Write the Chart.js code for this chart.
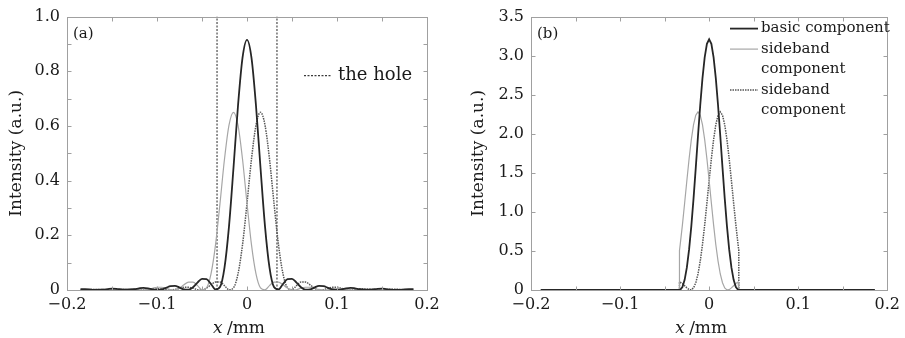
<!DOCTYPE html>
<html>
<head>
<meta charset="utf-8">
<script src="https://cdn.jsdelivr.net/npm/chart.js@4.4.1/dist/chart.umd.min.js"></script>
<style>
  html, body { margin: 0; padding: 0; background: #fff; }
  #wrap { position: relative; width: 905px; height: 338px; }
  canvas { position: absolute; top: 0; }
  #chartA { left: 0; }
  #chartB { left: 453px; }
</style>
</head>
<body>
<div id="wrap">
  <canvas id="chartA" width="453" height="338"></canvas>
  <canvas id="chartB" width="452" height="338"></canvas>
</div>
<script>
// ---- panel (a): intensity, x in mm ----
const xA = [-0.185,-0.18,-0.175,-0.17,-0.165,-0.16,-0.155,-0.15,-0.145,-0.14,-0.135,-0.13,-0.125,-0.12,-0.115,-0.11,-0.105,-0.1,-0.095,-0.09,-0.085,-0.08,-0.075,-0.07,-0.065,-0.06,-0.055,-0.05,-0.045,-0.04,-0.035,-0.03,-0.025,-0.02,-0.015,-0.01,-0.005,
  0,0.005,0.01,0.015,0.02,0.025,0.03,0.035,0.04,0.045,0.05,0.055,0.06,0.065,0.07,0.075,0.08,0.085,0.09,0.095,0.1,0.105,0.11,0.115,0.12,0.125,0.13,0.135,0.14,0.145,0.15,0.155,0.16,0.165,0.17,0.175,0.18,0.185];
const basicA = [0.003,0.003,0.002,0,0,0.001,0.003,0.005,0.004,0.002,0,0.001,0.003,0.006,0.008,0.006,0.002,0,0.002,0.008,0.014,0.015,0.009,0.002,0.001,0.010,0.027,0.041,0.040,0.022,0.002,0.011,0.082,0.233,0.447,0.674,0.849,
  0.915,0.849,0.674,0.447,0.233,0.082,0.011,0.002,0.022,0.040,0.041,0.027,0.010,0.001,0.002,0.009,0.015,0.014,0.008,0.002,0,0.002,0.006,0.008,0.006,0.003,0.001,0,0.002,0.004,0.005,0.003,0.001,0,0,0.002,0.003,0.003];
const sideLeftA = [0,0,0.001,0.002,0.003,0.003,0.001,0,0,0.002,0.005,0.005,0.004,0.001,0,0.002,0.006,0.010,0.010,0.007,0.001,0,0.007,0.019,0.029,0.029,0.016,0.001,0.008,0.059,0.165,0.317,0.479,0.603,0.650,
  0.603,0.479,0.317,0.165,0.059,0.008,0.001,0.016,0.029,0.029,0.019,0.007,0,0.001,0.007,0.010,0.010,0.006,0.002,0,0.001,0.004,0.005,0.005,0.002,0,0,0.001,0.003,0.003,0.002,0.001,0,0,0.001,0.002,0.002,0.001,0,0];
const sideRightA = [0,0,0.001,0.002,0.002,0.001,0,0,0.001,0.002,0.003,0.003,0.001,0,0,0.002,0.005,0.005,0.004,0.001,0,0.002,0.006,0.010,0.010,0.007,0.001,0,0.007,0.019,0.029,0.029,0.016,0.001,0.008,0.059,0.165,0.317,0.479,0.603,
  0.650,0.603,0.479,0.317,0.165,0.059,0.008,0.001,0.016,0.029,0.029,0.019,0.007,0,0.001,0.007,0.010,0.010,0.006,0.002,0,0.001,0.004,0.005,0.005,0.002,0,0,0.001,0.003,0.003,0.002,0.001,0,0];
const holeX = [-0.0333, 0.0333];
const holeY = [0, 1];

// ---- panel (b): components after the hole ----
const xB = [-0.189,-0.0333,-0.0333,-0.0325,-0.03,-0.0275,-0.025,-0.0225,-0.02,-0.0175,-0.015,-0.0125,-0.01,-0.0075,-0.005,-0.0025,
  0,0.0025,0.005,0.0075,0.01,0.0125,0.015,0.0175,0.02,0.0225,0.025,0.0275,0.03,0.0325,0.0333,0.0333,0.186];
const basicB = [0,0,0,0.002,0.038,0.130,0.289,0.519,0.817,1.173,1.567,1.974,2.365,2.710,2.979,3.151,
  3.210,3.151,2.979,2.710,2.365,1.974,1.567,1.173,0.817,0.519,0.289,0.130,0.038,0.002,0,0,0];
const sideLeftB = [0,0,0.505,0.580,0.833,1.113,1.402,1.680,1.925,2.116,2.238,2.280,2.238,2.116,1.925,1.680,
  1.402,1.113,0.833,0.580,0.369,0.205,0.093,0.027,0.002,0.005,0.027,0.055,0.082,0.101,0.104,0,0];
const sideRightB = [0,0,0.104,0.101,0.082,0.055,0.027,0.005,0.002,0.027,0.093,0.205,0.369,0.580,0.833,1.113,
  1.402,1.680,1.925,2.116,2.238,2.280,2.238,2.116,1.925,1.680,1.402,1.113,0.833,0.580,0.505,0,0];

// ---- ticks and labels ----
const xTickValues = [-0.2, -0.1, 0, 0.1, 0.2];
const xTickLabels = ['\u22120.2', '\u22120.1', '0', '0.1', '0.2'];
const yTickValuesA = [0, 0.2, 0.4, 0.6, 0.8, 1.0];
const yTickLabelsA = ['0', '0.2', '0.4', '0.6', '0.8', '1.0'];
const yTickValuesB = [0, 0.5, 1.0, 1.5, 2.0, 2.5, 3.0, 3.5];
const yTickLabelsB = ['0', '0.5', '1.0', '1.5', '2.0', '2.5', '3.0', '3.5'];
const legendA = [{ index: 3, text: ['the hole'] }];
const legendB = [
  { index: 0, text: ['basic component'] },
  { index: 1, text: ['sideband', 'component'] },
  { index: 2, text: ['sideband', 'component'] }
];

Chart.defaults.font.family = '"DejaVu Serif", serif';
Chart.defaults.color = '#1a1a1a';

const styleBasic = { borderColor: '#262626', borderWidth: 1.8 };
const styleLight = { borderColor: '#a6a6a6', borderWidth: 1.2 };
const styleDots = { borderColor: '#555555', borderWidth: 1.5, borderDash: [1.5, 1] };
const styleHole = { borderColor: '#3a3a3a', borderWidth: 1.1, borderDash: [2, 1.5] };

function pairs(xs, ys) {
  return xs.map((x, i) => ({ x: x, y: ys[i] }));
}

function tickLabel(values, labels) {
  return (v) => {
    const i = values.findIndex(t => Math.abs(t - v) < 1e-6);
    return i < 0 ? '' : labels[i];
  };
}

// grey box round the plot with small inward ticks on all four sides
const frameTicks = {
  id: 'frameTicks',
  afterDatasetsDraw(chart) {
    const { ctx, chartArea: a, scales: { x, y } } = chart;
    ctx.save();
    ctx.strokeStyle = '#a0a0a0';
    ctx.lineWidth = 1;
    ctx.setLineDash([]);
    const l = Math.round(a.left) + 0.5, r = Math.round(a.right) + 0.5;
    const t = Math.round(a.top) + 0.5, b = Math.round(a.bottom) + 0.5;
    ctx.strokeRect(l, t, r - l, b - t);
    ctx.beginPath();
    x.ticks.forEach(tk => {
      const px = Math.round(x.getPixelForValue(tk.value)) + 0.5;
      ctx.moveTo(px, b); ctx.lineTo(px, b - 4);
      ctx.moveTo(px, t); ctx.lineTo(px, t + 4);
    });
    y.ticks.forEach(tk => {
      const py = Math.round(y.getPixelForValue(tk.value)) + 0.5;
      ctx.moveTo(l, py); ctx.lineTo(l + 4, py);
      ctx.moveTo(r, py); ctx.lineTo(r - 4, py);
    });
    ctx.stroke();
    ctx.restore();
  }
};

function makeExtras(cfg) {
  return {
    id: 'extras',
    afterDraw(chart) {
      const { ctx, chartArea: a } = chart;
      ctx.save();
      ctx.fillStyle = '#1a1a1a';
      ctx.textAlign = 'left';
      ctx.textBaseline = 'middle';
      ctx.font = '15px "DejaVu Serif"';
      ctx.fillText(cfg.tag, a.left + 6, a.top + 18);

      // x axis title, italic x then /mm
      const cx = (a.left + a.right) / 2;
      ctx.textBaseline = 'alphabetic';
      ctx.font = 'italic 17px "DejaVu Serif"';
      ctx.fillText('x', cx - 34, 333);
      ctx.font = '17px "DejaVu Serif"';
      ctx.fillText('/mm', cx - 20, 333);

      // legend inside the plot
      ctx.textBaseline = 'middle';
      ctx.font = cfg.legendFont;
      let row = 0;
      cfg.legend.forEach(item => {
        const ds = chart.data.datasets[item.index];
        const ly = a.top + cfg.legendTop + row * cfg.legendStep;
        const lx = a.left + cfg.legendLeft;
        ctx.strokeStyle = ds.borderColor;
        ctx.lineWidth = ds.borderWidth;
        ctx.setLineDash(ds.borderDash || []);
        ctx.beginPath();
        ctx.moveTo(lx, ly);
        ctx.lineTo(lx + 28, ly);
        ctx.stroke();
        item.text.forEach((s, k) => {
          ctx.fillText(s, lx + 28 + cfg.textGap, ly + k * cfg.legendStep);
        });
        row += item.text.length;
      });
      ctx.restore();
    }
  };
}

function buildChart(id, cfg) {
  return new Chart(document.getElementById(id), {
    type: 'line',
    data: { datasets: cfg.datasets },
    options: {
      responsive: false,
      animation: false,
      devicePixelRatio: 1,
      layout: { padding: { top: 13, right: cfg.padRight, left: 0, bottom: 0 } },
      elements: { point: { radius: 0 } },
      plugins: { legend: { display: false }, tooltip: { enabled: false } },
      scales: {
        x: {
          type: 'linear', min: -0.2, max: 0.2,
          grid: { display: false, drawTicks: false },
          border: { display: false },
          ticks: { stepSize: 0.05, autoSkip: false, maxRotation: 0, padding: 5,
                   font: { size: 16 }, callback: tickLabel(xTickValues, xTickLabels) },
          afterFit: (s) => { s.height = 48; }
        },
        y: {
          type: 'linear', min: 0, max: cfg.yMax,
          grid: { display: false, drawTicks: false },
          border: { display: false },
          ticks: { stepSize: cfg.yStep, autoSkip: false, padding: 7,
                   font: { size: 16 }, callback: tickLabel(cfg.yValues, cfg.yLabels) },
          title: { display: true, text: 'Intensity (a.u.)', font: { size: 17 },
                   padding: { top: cfg.titlePad, bottom: 0 } },
          afterFit: (s) => { s.width = cfg.yWidth; }
        }
      }
    },
    plugins: [frameTicks, makeExtras(cfg)]
  });
}

buildChart('chartA', {
  datasets: [
    Object.assign({ label: 'basic component', data: pairs(xA, basicA), cubicInterpolationMode: 'monotone' }, styleBasic),
    Object.assign({ label: 'sideband component', data: pairs(xA, sideLeftA), cubicInterpolationMode: 'monotone' }, styleLight),
    Object.assign({ label: 'sideband component', data: pairs(xA, sideRightA), cubicInterpolationMode: 'monotone' }, styleDots),
    Object.assign({ label: 'the hole', data: pairs([holeX[0], holeX[0]], holeY) }, styleHole),
    Object.assign({ label: 'the hole', data: pairs([holeX[1], holeX[1]], holeY) }, styleHole)
  ],
  yMax: 1, yStep: 0.1, yValues: yTickValuesA, yLabels: yTickLabelsA,
  yWidth: 67, padRight: 26, titlePad: 6,
  tag: '(a)', legend: legendA, legendFont: '18px "DejaVu Serif"',
  legendLeft: 237, legendTop: 59, legendStep: 20, textGap: 6
});

buildChart('chartB', {
  datasets: [
    Object.assign({ label: 'basic component', data: pairs(xB, basicB), tension: 0 }, styleBasic),
    Object.assign({ label: 'sideband component', data: pairs(xB, sideLeftB), tension: 0 }, styleLight),
    Object.assign({ label: 'sideband component', data: pairs(xB, sideRightB), tension: 0 }, styleDots)
  ],
  yMax: 3.5, yStep: 0.5, yValues: yTickValuesB, yLabels: yTickLabelsB,
  yWidth: 78, padRight: 14, titlePad: 15,
  tag: '(b)', legend: legendB, legendFont: '15px "DejaVu Serif"',
  legendLeft: 199, legendTop: 12, legendStep: 20.5, textGap: 3
});
</script>
</body>
</html>
